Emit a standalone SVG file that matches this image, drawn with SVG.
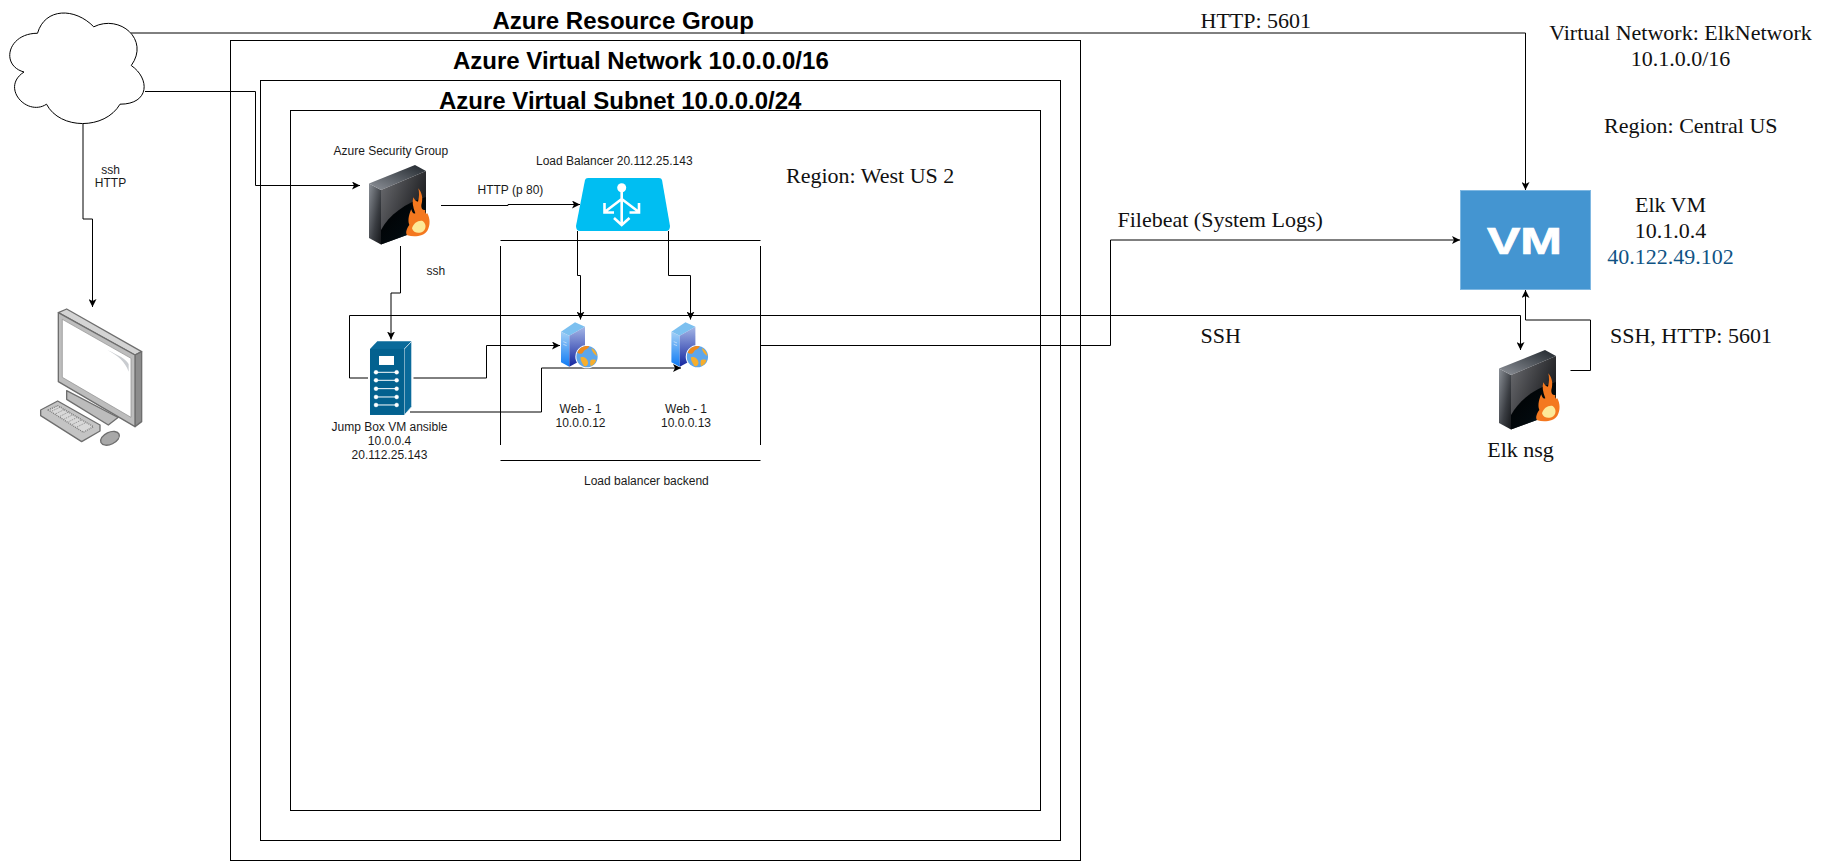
<svg xmlns="http://www.w3.org/2000/svg" width="1821" height="861" viewBox="0 0 1821 861">
<style>
.box{fill:none;stroke:#000;stroke-width:1}
.c{fill:none;stroke:#000;stroke-width:1}
.a{marker-end:url(#arr)}
text{font-family:"Liberation Sans",Arial,sans-serif;fill:#1a1a1a}
.h{font-size:24px;font-weight:bold;fill:#000}
.s{font-size:12px}
.m{text-anchor:middle}
.t{font-family:"Liberation Serif","Times New Roman",serif;font-size:22px;fill:#111}
</style>
<defs>
<marker id="arr" markerUnits="userSpaceOnUse" viewBox="0 0 8 8" markerWidth="8" markerHeight="8" refX="8" refY="4" orient="auto">
<path d="M0 0L8 4L0 8L2 4Z" fill="#000"/>
</marker>
<linearGradient id="fwL" x1="0" y1="0" x2="1" y2="1"><stop offset="0" stop-color="#8a8f96"/><stop offset=".6" stop-color="#3a3d42"/><stop offset="1" stop-color="#15171a"/></linearGradient>
<linearGradient id="fwT" x1="0" y1="1" x2="1" y2="0"><stop offset="0" stop-color="#8e9299"/><stop offset="1" stop-color="#20262c"/></linearGradient>
<linearGradient id="fwF" x1="0" y1="0" x2="1" y2=".6"><stop offset="0" stop-color="#6d6e72"/><stop offset="1" stop-color="#141518"/></linearGradient>
<linearGradient id="fwK" x1="0" y1="0" x2="1" y2="1"><stop offset="0" stop-color="#000"/><stop offset=".6" stop-color="#02090d"/><stop offset="1" stop-color="#0c4358"/></linearGradient>
<linearGradient id="wsL" x1="0" y1="0" x2="0" y2="1"><stop offset="0" stop-color="#a4d0f5"/><stop offset="1" stop-color="#0f7bf5"/></linearGradient>
<linearGradient id="wsF" x1="0" y1="0" x2="0" y2="1"><stop offset="0" stop-color="#a4b6e6"/><stop offset="1" stop-color="#1426a0"/></linearGradient>
<g id="fw">
<path d="M0 18.5L12 25V79.5L0 73Z" fill="url(#fwL)"/>
<path d="M0 18.5L46 0L57 6L12 25Z" fill="url(#fwT)"/>
<path d="M12 25L57 6V63L12 79.5Z" fill="url(#fwF)"/>
<path d="M12 65C20 50 36 38 57 32V63L12 79.5Z" fill="url(#fwK)"/>
<g transform="translate(-19 -5) scale(.3333)">
<path d="M205 85C216 98 220 115 214 135C213 145 218 152 226 150C224 156 228 165 232 160C240 175 242 195 232 212C222 228 195 232 172 226C165 220 170 205 178 195C172 180 178 160 184 148C186 158 190 162 196 160C188 140 186 125 190 112C194 120 198 125 204 125C208 110 208 98 205 85Z" fill="#f4781f"/>
<path d="M186 205C190 190 205 180 218 183C228 190 230 205 220 214C208 222 190 220 186 205Z" fill="#fde998"/>
</g>
</g>
<g id="web">
<path d="M33 65L75 37L105 50L58 77Z" fill="#7cc0f0"/>
<path d="M33 65L58 77V170L33 157Z" fill="url(#wsL)"/>
<path d="M58 77L105 50V145L58 170Z" fill="url(#wsF)"/>
<path d="M40 95l10 4M40 103l10 4" stroke="#d7e9fb" stroke-width="2" fill="none"/>
<circle cx="111" cy="140" r="35" fill="#fff"/>
<circle cx="111" cy="140" r="32" fill="#5ea6ea"/>
<path d="M82 128C88 112 104 106 118 109C114 118 104 118 100 126C96 134 88 132 82 128Z" fill="#ef8a1c"/>
<path d="M92 142C102 138 112 146 114 156C116 164 108 172 102 168C98 160 90 152 92 142Z" fill="#f6ae2d"/>
<path d="M124 114C134 118 140 128 141 138C134 134 126 126 124 114ZM122 150C130 148 136 148 138 152C134 162 128 166 122 168C120 162 120 156 122 150Z" fill="#f6ae2d"/>
</g>
</defs>
<rect width="1821" height="861" fill="#fff"/>

<g id="containers">
<rect class="box" x="230.5" y="40.5" width="850" height="820"/>
<rect class="box" x="260.5" y="80.5" width="800" height="760"/>
<rect class="box" x="290.5" y="110.5" width="750" height="700"/>
<text class="h" x="492.5" y="29">Azure Resource Group</text>
<text class="h" x="453" y="69">Azure Virtual Network 10.0.0.0/16</text>
<text class="h" x="439" y="109">Azure Virtual Subnet 10.0.0.0/24</text>
<text class="t" x="786" y="182.5">Region: West US 2</text>
<path class="box" d="M500.5 240.5H760.5M500.5 460.5H760.5M500.5 246V445M760.5 246V445"/>
<text class="s" x="584" y="484.5">Load balancer backend</text>
</g>

<g id="connectors">
<path class="c a" d="M131 33H1525.5V190"/>
<path class="c a" d="M145 91.5H255.5V185.5H360"/>
<path class="c a" d="M83 124V219H92.5V307"/>
<path class="c a" d="M441 205.5H508V204.5H580"/>
<path class="c a" d="M400.5 246V293H391V339.5"/>
<path class="c a" d="M368 378H349.5V315.5H1520.5V350"/>
<path class="c a" d="M413.5 378H486.5V345.5H560"/>
<path class="c a" d="M410 412H541.5V368H681"/>
<path class="c a" d="M577.5 231V275.5H580.5V319.5"/>
<path class="c a" d="M668.5 231V275.5H690.5V319.5"/>
<path class="c a" d="M760.5 345.5H1110.5V240H1460"/>
<path class="c a" d="M1570.5 370.5H1590.5V320H1525.5V290"/>
</g>

<g id="cloud">
<path d="M37.5 33.25C7.5 33.25 0 65.5 24 72C0 87.5 27 117.1 46.5 104.2C60 130 105 130 120 104.2C150 104.2 150 78.4 131.25 65.5C150 39.7 120 13.9 93.75 26.8C75 7.45 45 7.45 37.5 33.25Z" fill="#fff" stroke="#000"/>
</g>
<text class="s m" x="110.5" y="173.5">ssh</text>
<text class="s m" x="110.5" y="187">HTTP</text>

<g id="pc" transform="translate(20 300) scale(.3333)">
<path d="M115 38L140 27L365 155L345 165Z" fill="#d4d4d4" stroke="#6e6e6e" stroke-width="4" stroke-linejoin="round"/>
<path d="M345 165L365 155V365L345 380Z" fill="#8c8c8c" stroke="#6e6e6e" stroke-width="4" stroke-linejoin="round"/>
<path d="M140 272V298L265 375L295 352L280 345Z" fill="#bcbcbc" stroke="#6e6e6e" stroke-width="4" stroke-linejoin="round"/>
<path d="M115 38L345 165V380L115 245Z" fill="#bdbdbd" stroke="#6e6e6e" stroke-width="4" stroke-linejoin="round"/>
<path d="M127 58L333 175V352L127 232Z" fill="#fff" stroke="#8c8c8c" stroke-width="2"/>
<path d="M262 150C295 165 318 178 326 192V215C315 185 295 168 262 150Z" fill="#c9ccd0"/>
<path d="M62 330L113 303L240 375V393L185 425L62 347Z" fill="#c4c4c4" stroke="#6e6e6e" stroke-width="4" stroke-linejoin="round"/>
<path d="M85 330L113 317L220 380L190 397Z" fill="#d8d8d8" stroke="#7a7a7a" stroke-width="4" stroke-dasharray="3 3"/>
<path d="M96 333L124 320M108 341L136 327M120 349L148 335M133 357L161 343M146 365L174 351M158 373L186 359M171 381L199 367" stroke="#8a8a8a" stroke-width="3" stroke-dasharray="3 3" fill="none"/>
<ellipse cx="270" cy="415" rx="30" ry="18" transform="rotate(-25 270 415)" fill="#a8a8a8" stroke="#6e6e6e" stroke-width="4"/>
</g>

<g id="nsg">
<use href="#fw" x="369" y="165"/>
<text class="s" x="333.5" y="155">Azure Security Group</text>
</g>
<text class="s" x="477.5" y="193.5">HTTP (p 80)</text>
<text class="s" x="426.5" y="275">ssh</text>

<g id="lb">
<path d="M585 180Q585.5 178 588 178H659Q661.5 178 662 180L670 226Q670 231 666 231H580Q576 231 576 226Z" fill="#00bef2"/>
<g fill="none" stroke="#fff" stroke-width="2.6">
<path d="M621.7 190V224M621.7 199L604 212.5M621.7 199L639.5 212.5M604.5 203V212.5H614M639 203V212.5H629.5M614 218L621.7 225L629.5 218"/>
</g>
<circle cx="621.7" cy="187.7" r="4.5" fill="#fff"/>
<text class="s" x="536" y="164.5">Load Balancer 20.112.25.143</text>
</g>

<g id="jump" transform="translate(320 130) scale(.3333)">
<path d="M150 657L172 634H275L253 657Z" fill="#0a6a9a"/>
<path d="M253 657L275 634V830L253 855Z" fill="#0a6a9a" stroke="#fff" stroke-width="2"/>
<rect x="150" y="657" width="103" height="198" fill="#03618f"/>
<rect x="177" y="678" width="45" height="27" fill="#fff"/>
<g fill="#fff" stroke="#fff">
<path d="M168 727H230M168 751H230M168 776H230M168 801H230M168 825H230" stroke-width="3" fill="none"/>
<circle cx="168" cy="727" r="6"/><circle cx="230" cy="727" r="6"/>
<circle cx="168" cy="751" r="6"/><circle cx="230" cy="751" r="6"/>
<circle cx="168" cy="776" r="6"/><circle cx="230" cy="776" r="6"/>
<circle cx="168" cy="801" r="6"/><circle cx="230" cy="801" r="6"/>
<circle cx="168" cy="825" r="6"/><circle cx="230" cy="825" r="6"/>
</g>
</g>
<g id="jump-label">
<text class="s m" x="389.5" y="431">Jump Box VM ansible</text>
<text class="s m" x="389.5" y="445">10.0.0.4</text>
<text class="s m" x="389.5" y="459">20.112.25.143</text>
</g>

<g id="web1">
<use href="#web" transform="translate(550 310) scale(.3333)"/>
<text class="s m" x="580.5" y="413">Web - 1</text>
<text class="s m" x="580.5" y="427">10.0.0.12</text>
</g>
<g id="web2">
<use href="#web" transform="translate(660.4 310) scale(.3333)"/>
<text class="s m" x="686" y="413">Web - 1</text>
<text class="s m" x="686" y="427">10.0.0.13</text>
</g>

<text class="t" x="1200.5" y="27.5">HTTP: 5601</text>
<text class="t" x="1117.5" y="227">Filebeat (System Logs)</text>
<text class="t" x="1200.5" y="342.5">SSH</text>
<g id="elk-info">
<text class="t m" x="1680.5" y="39.5">Virtual Network: ElkNetwork</text>
<text class="t m" x="1680.5" y="66">10.1.0.0/16</text>
<text class="t" x="1604" y="132.5">Region: Central US</text>
</g>

<g id="elk-vm">
<rect x="1460.5" y="190.5" width="130" height="99" fill="#4495d1" stroke="#80b8e2"/>
<text x="1524.5" y="254" font-family="'DejaVu Sans',sans-serif" font-weight="bold" font-size="36" style="fill:#fff;stroke:#fff;stroke-width:.7" text-anchor="middle" textLength="75" lengthAdjust="spacingAndGlyphs">VM</text>
<text class="t m" x="1670.5" y="211.5">Elk VM</text>
<text class="t m" x="1670.5" y="237.5">10.1.0.4</text>
<text class="t m" x="1670.5" y="263.5" style="fill:#0f5384">40.122.49.102</text>
</g>
<text class="t" x="1610" y="342.5">SSH, HTTP: 5601</text>

<g id="elk-nsg">
<use href="#fw" x="1499" y="350"/>
<text class="t m" x="1520.5" y="457">Elk nsg</text>
</g>
</svg>
